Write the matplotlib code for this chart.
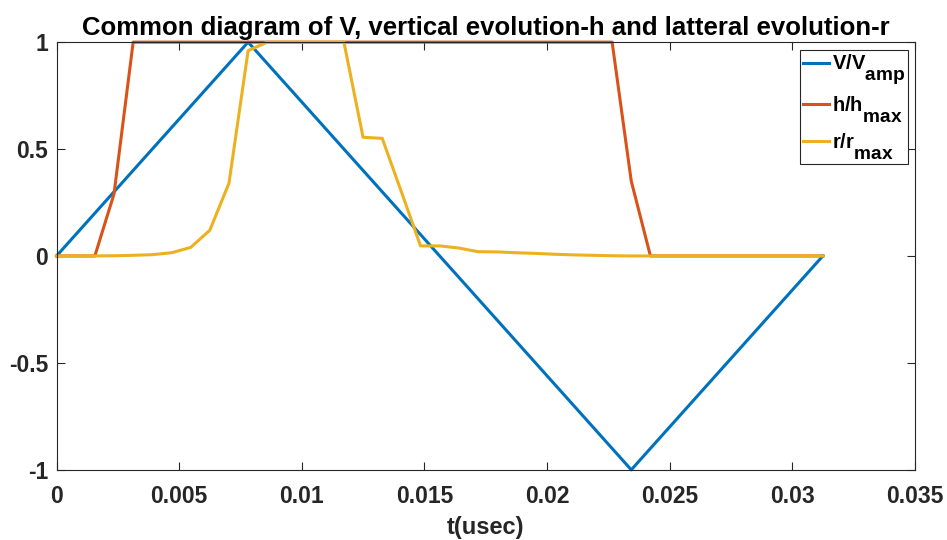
import numpy as np
import matplotlib
matplotlib.use("Agg")
import matplotlib.pyplot as plt
import matplotlib._mathtext as mtext

# MATLAB tex subscripts are nearly full size and sit lower
mtext.SHRINK_FACTOR = 0.95
mtext.FontConstantsBase.sub1 = 1.0

plt.rcParams['font.family'] = 'Liberation Sans'
plt.rcParams['font.weight'] = 'bold'
plt.rcParams['mathtext.fontset'] = 'custom'
plt.rcParams['mathtext.rm'] = 'Liberation Sans:bold'
plt.rcParams['mathtext.bf'] = 'Liberation Sans:bold'

# time samples, one period split in 40 steps
t = np.arange(41) * (0.03125 / 40)

v_norm = [0.0, 0.1, 0.2, 0.3, 0.4, 0.5, 0.6, 0.7, 0.8, 0.9, 1.0,
          0.9, 0.8, 0.7, 0.6, 0.5, 0.4, 0.3, 0.2, 0.1, 0.0,
          -0.1, -0.2, -0.3, -0.4, -0.5, -0.6, -0.7, -0.8, -0.9, -1.0,
          -0.9, -0.8, -0.7, -0.6, -0.5, -0.4, -0.3, -0.2, -0.1, 0.0]
h_norm = [0.0, 0.0, 0.0, 0.29, 1.0, 1.0, 1.0, 1.0, 1.0, 1.0, 1.0,
          1.0, 1.0, 1.0, 1.0, 1.0, 1.0, 1.0, 1.0, 1.0, 1.0,
          1.0, 1.0, 1.0, 1.0, 1.0, 1.0, 1.0, 1.0, 1.0, 0.35,
          0.0, 0.0, 0.0, 0.0, 0.0, 0.0, 0.0, 0.0, 0.0, 0.0]
r_norm = [0.0, 0.0, 0.0, 0.001, 0.003, 0.006, 0.015, 0.04, 0.12, 0.34, 0.96,
          1.0, 1.0, 1.0, 1.0, 1.0, 0.555, 0.55, 0.30, 0.047, 0.047,
          0.037, 0.02, 0.019, 0.015, 0.012, 0.008, 0.005, 0.003, 0.001, 0.0,
          0.0, 0.0, 0.0, 0.0, 0.0, 0.0, 0.0, 0.0, 0.0, 0.0]

fig = plt.figure(figsize=(9.47, 5.4), dpi=100)
ax = fig.add_axes([0.0597, 0.130, 0.9063, 0.792])

lw = 2.2
ax.plot(t, v_norm, color='#0072BD', lw=lw, label=r'V/V$_{\mathrm{amp}}$', clip_on=False)
ax.plot(t, h_norm, color='#D95319', lw=lw, label=r'h/h$_{\mathrm{max}}$', clip_on=False)
ax.plot(t, r_norm, color='#EDB120', lw=lw, label=r'r/r$_{\mathrm{max}}$', clip_on=False)

ax.set_xlim(0, 0.035)
ax.set_ylim(-1, 1)
ax.set_xticks(np.arange(0, 0.0351, 0.005))
ax.set_xticklabels(['0', '0.005', '0.01', '0.015', '0.02', '0.025', '0.03', '0.035'])
ax.set_yticks([-1, -0.5, 0, 0.5, 1])
ax.set_yticklabels(['-1', '-0.5', '0', '0.5', '1'])
ax.tick_params(direction='in', length=5.5, width=0.8, labelsize=16.5, top=True, right=True,
               colors='#262626')
ax.tick_params(axis='x', pad=11)
ax.tick_params(axis='y', pad=6)
for s in ax.spines.values():
    s.set_color('#262626')
    s.set_linewidth(0.8)

ax.set_xlabel('t(usec)', fontsize=17, fontweight='bold', color='#262626', labelpad=6)
ax.set_title('Common diagram of V, vertical evolution-h and latteral evolution-r',
             fontsize=18.5, fontweight='bold', pad=5)

leg = ax.legend(loc='upper right', bbox_to_anchor=(908 / 947, 1 - 50 / 540),
                bbox_transform=fig.transFigure, borderaxespad=0,
                fontsize=14.5, fancybox=False, framealpha=1,
                edgecolor='#262626', handlelength=1.25, handletextpad=0.15,
                borderpad=0.15, labelspacing=0.35)
leg.get_frame().set_linewidth(0.8)

fig.savefig('out.png', dpi=100)
